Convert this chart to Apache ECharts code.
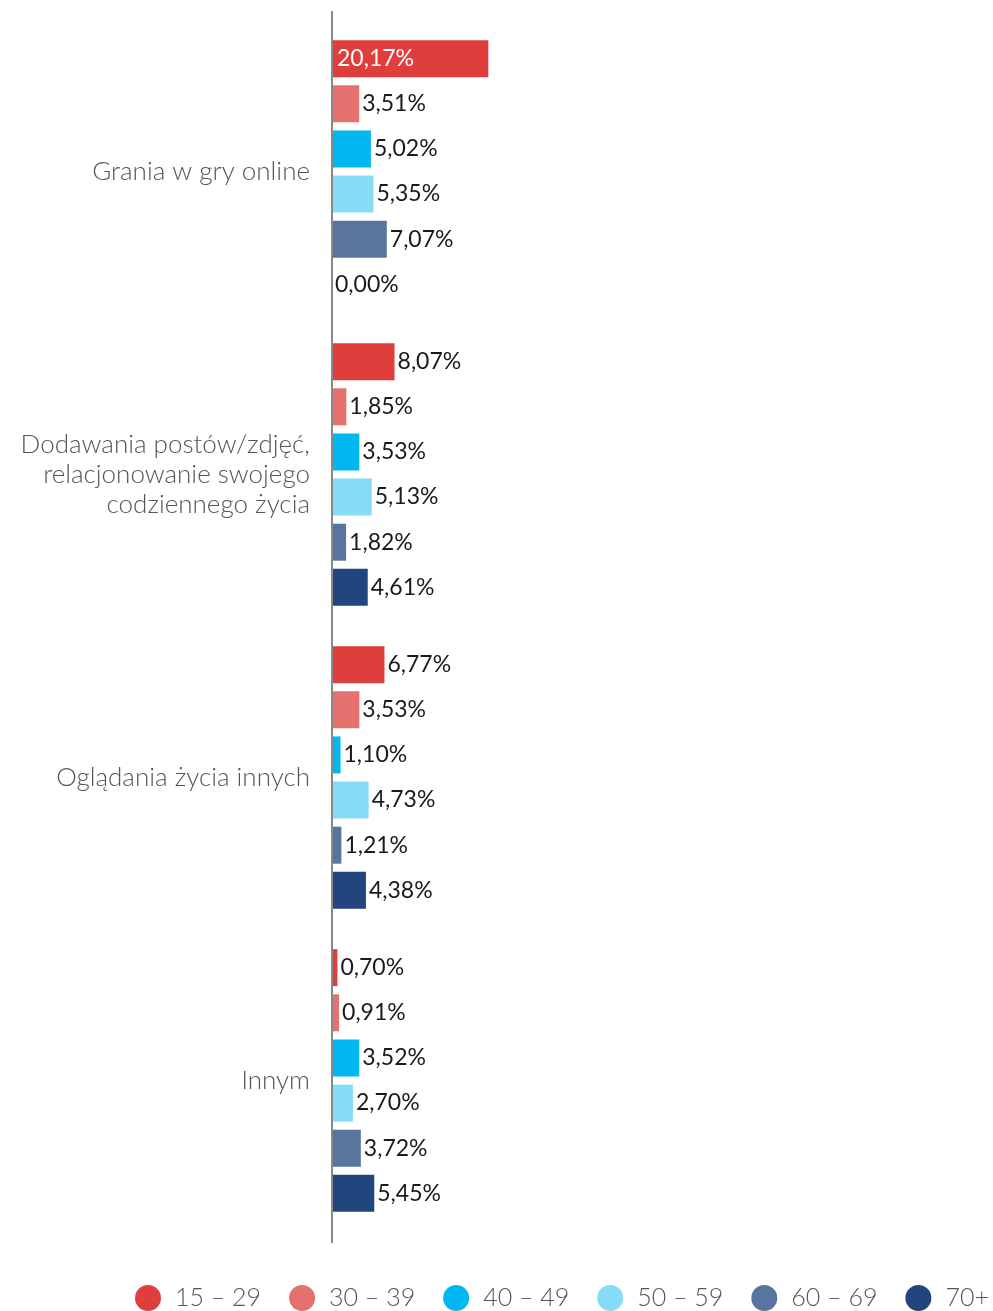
<!DOCTYPE html>
<html>
<head>
<meta charset="utf-8">
<script src="https://cdn.jsdelivr.net/npm/echarts@6/dist/echarts.min.js"></script>
<style>
  html, body { margin: 0; padding: 0; background: #fff; }
  #chart { width: 993px; height: 1311px; }
</style>
</head>
<body>
<div id="chart"></div>
<script>
// kategorie (od góry)
const categories = [
  'Grania w gry online',
  'Dodawania postów/zdjęć,\nrelacjonowanie swojego\ncodziennego życia',
  'Oglądania życia innych',
  'Innym'
]

// grupy wiekowe
const ageGroups = ['15 – 29', '30 – 39', '40 – 49', '50 – 59', '60 – 69', '70+']
const colors = ['#e03e3d', '#e5716e', '#00b8ef', '#86dcf6', '#5a74a0', '#22457e']

// wartości w % dla każdej grupy wiekowej
const age15_29 = [20.17, 8.07, 6.77, 0.70]
const age30_39 = [3.51, 1.85, 3.53, 0.91]
const age40_49 = [5.02, 3.53, 1.10, 3.52]
const age50_59 = [5.35, 5.13, 4.73, 2.70]
const age60_69 = [7.07, 1.82, 1.21, 3.72]
const age70plus = [0.00, 4.61, 4.38, 5.45]

const seriesValues = [age15_29, age30_39, age40_49, age50_59, age60_69, age70plus]

const fmt = v => v.toFixed(2).replace('.', ',') + '%'

const chart = echarts.init(document.getElementById('chart'))

const series = ageGroups.map((name, i) => ({
  name: name,
  type: 'bar',
  barWidth: 37,
  barGap: '22%',
  itemStyle: { color: colors[i] },
  label: {
    show: true,
    position: 'right',
    distance: 3,
    color: '#1a1a1a',
    fontSize: 23,
    fontFamily: 'Lato',
    formatter: p => fmt(p.value)
  },
  // długie słupki mają etykietę w środku
  data: seriesValues[i].map(v => v > 15
    ? { value: v, label: { position: 'insideLeft', distance: 5, color: '#ffffff' } }
    : v)
}))

const option = {
  animation: false,
  textStyle: { fontFamily: 'Lato' },
  grid: {
    left: 332,
    width: 620,
    top: 20,
    height: 1212
  },
  legend: {
    data: ageGroups,
    left: 135,
    top: 1285,
    width: 900,
    padding: 0,
    icon: 'circle',
    itemWidth: 26,
    itemHeight: 26,
    itemGap: 28,
    textStyle: {
      color: '#555',
      fontSize: 25,
      fontWeight: 300,
      fontFamily: 'Lato',
      padding: [0, 0, 0, 9]
    }
  },
  xAxis: {
    type: 'value',
    min: 0,
    max: 80,
    show: false
  },
  yAxis: {
    type: 'category',
    data: categories,
    inverse: true,
    axisLine: { show: false },
    axisTick: { show: false },
    axisLabel: {
      color: '#555',
      fontSize: 26,
      fontWeight: 300,
      fontFamily: 'Lato',
      lineHeight: 30,
      margin: 22,
      align: 'right'
    }
  },
  graphic: [
    {
      type: 'rect',
      shape: { x: 331, y: 11, width: 2, height: 1232 },
      style: { fill: '#888' },
      z: 10
    }
  ],
  series: series
}

chart.setOption(option)
</script>
</body>
</html>
